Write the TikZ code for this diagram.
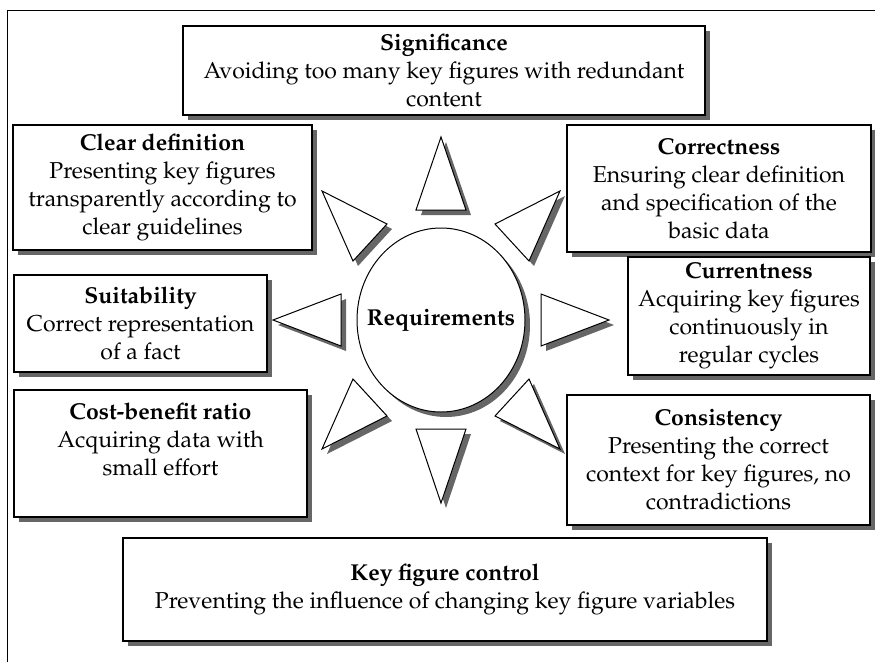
\documentclass[tikz,border=0pt]{standalone}
\usepackage[T1]{fontenc}
\usepackage{mathpazo}
\usetikzlibrary{shapes.geometric,shadows}

\begin{document}
\begin{tikzpicture}[x=1pt,y=-1pt,
    every node/.style={font=\fontsize{23}{28}\selectfont},
    myshadow/.style={drop shadow={shadow xshift=5pt,shadow yshift=-5pt,opacity=1,fill=black!60}},
    req/.style={rectangle,draw,line width=1.1pt,fill=white,align=center,inner sep=2pt,myshadow},
    spike/.style={draw,line width=1pt,fill=white,line join=miter,myshadow}]
\useasboundingbox (0,0) rectangle (875,662);
\draw[line width=1pt] (875,10) -- (7,10) -- (7,662);

% centre
\node[ellipse,draw,line width=1pt,fill=white,myshadow,inner sep=0pt,
  minimum width=168pt,minimum height=184pt,label={center:\textbf{Requirements}}] (core) at (441,320) {};

% spikes round the centre
\foreach \p/\q/\r in {{441,137}/{416,210}/{466,210}, {441,503}/{416,429}/{466,429},
    {273,320}/{341,294}/{341,346}, {609,320}/{541,294}/{541,346},
    {322,191}/{387,224}/{353,261}, {560,191}/{495,224}/{529,261},
    {322,449}/{387,416}/{353,379}, {560,449}/{495,416}/{529,379}}
  \path[spike] (\p) -- (\q) -- (\r) -- cycle;

% requirement boxes
\node[req,minimum width=522pt,minimum height=89pt] (sig) at (444,70.5)
  {\textbf{Significance}\\Avoiding too many key figures with redundant\\content};
\node[req,minimum width=299pt,minimum height=125pt] (clear) at (162.5,187.5)
  {\textbf{Clear definition}\\Presenting key figures\\transparently according to\\clear guidelines};
\node[req,minimum width=304pt,minimum height=127pt] (corr) at (719,188.5)
  {\textbf{Correctness}\\Ensuring clear definition\\and specification of the\\basic data};
\node[req,minimum width=242pt,minimum height=118pt] (curr) at (749,316)
  {\textbf{Currentness}\\Acquiring key figures\\continuously in\\regular cycles};
\node[req,minimum width=253pt,minimum height=97pt] (suit) at (140.5,323.5)
  {\textbf{Suitability}\\Correct representation\\of a fact};
\node[req,minimum width=293pt,minimum height=127pt] (cost) at (160.5,453.5)
  {\textbf{Cost-benefit ratio}\\Acquiring data with\\small effort\\\mbox{}};
\node[req,minimum width=303pt,minimum height=130pt] (cons) at (718.5,460)
  {\textbf{Consistency}\\Presenting the correct\\context for key figures, no\\contradictions};
\node[req,minimum width=644pt,minimum height=103pt] (ctrl) at (445,589.5)
  {\textbf{Key figure control}\\Preventing the influence of changing key figure variables};
\end{tikzpicture}
\end{document}
